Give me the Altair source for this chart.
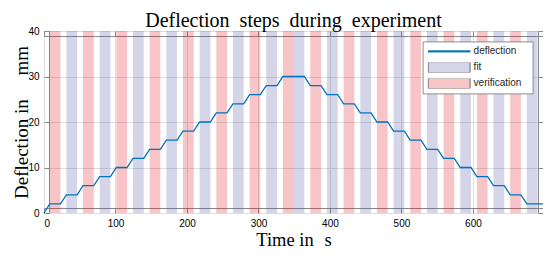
import altair as alt
import pandas as pd

# ---- values ----
bar_start = [8.0, 31.3, 54.6, 77.9, 101.2, 124.5, 147.8, 171.1, 194.4, 217.7,
             241.0, 264.3, 287.6, 310.9, 334.2, 349.2, 372.5, 395.8, 419.1, 442.4,
             465.7, 489.0, 512.3, 535.6, 558.9, 582.2, 605.5, 628.8, 652.1, 675.4]
bar_end = [23.0, 46.3, 69.6, 92.9, 116.2, 139.5, 162.8, 186.1, 209.4, 232.7,
           256.0, 279.3, 302.6, 325.9, 349.2, 364.2, 387.5, 410.8, 434.1, 457.4,
           480.7, 504.0, 527.3, 550.6, 573.9, 597.2, 620.5, 643.8, 667.1, 690.4]
bar_kind = ["verification", "fit"] * 15
hold_level = [2, 4, 6, 8, 10, 12, 14, 16, 18, 20, 22, 24, 26, 28, 30,
              30, 28, 26, 24, 22, 20, 18, 16, 14, 12, 10, 8, 6, 4, 2]
t_first, d_first = 0.0, 0.0
t_last = 698.0

series = ["deflection", "fit", "verification"]
x_ticks = [0, 100, 200, 300, 400, 500, 600]
y_ticks = [0, 10, 20, 30, 40]

NB = "\u00a0"
title_text = f"Deflection {NB}steps {NB}during {NB}experiment"
x_title = f"Time in {NB}\u200as"
y_title = f"Deflection in {NB}{NB}{NB}{NB}mm"

# ---- tables ----
bars_df = pd.DataFrame({"start": bar_start, "end": bar_end, "kind": bar_kind})

lt, ld = [t_first], [d_first]
for s, e, lv in zip(bar_start, bar_end, hold_level):
    lt += [s, e]
    ld += [lv, lv]
lt.append(t_last)
ld.append(hold_level[-1])
line_df = pd.DataFrame({"time": lt, "defl": ld})
leg_df = pd.DataFrame({"series": series})

xscale = alt.Scale(domain=[0, t_last], nice=False, zero=False)
yscale = alt.Scale(domain=[0, 40], nice=False)

SERIF = "Liberation Serif"
SANS = "Liberation Sans"

bars = alt.Chart(bars_df).mark_rect(opacity=0.25).encode(
    x=alt.X("start:Q", scale=xscale, axis=alt.Axis(
        orient="bottom", values=x_ticks, offset=-5, tickSize=5, labelPadding=5,
        grid=True, title=x_title, titleFont=SERIF, titleFontSize=18.5,
        titleFontWeight="normal", titleColor="black", titleY=37,
        titleBaseline="alphabetic", format="d")),
    x2="end:Q",
    fill=alt.when(alt.datum.kind == "fit").then(alt.value("#5757ab")).otherwise(alt.value("#df1723")),
)

line = alt.Chart(line_df).mark_line(color="#0072BD", strokeWidth=1.3).encode(
    x=alt.X("time:Q", scale=xscale, axis=None),
    y=alt.Y("defl:Q", scale=yscale, axis=alt.Axis(
        orient="left", values=y_ticks, offset=-5, tickSize=5, labelPadding=5,
        grid=True, title=y_title, titleFont=SERIF, titleFontSize=19,
        titleFontWeight="normal", titleColor="black", titleX=-22,
        titleBaseline="alphabetic")),
)

frame_axes = alt.Chart(line_df).mark_line(opacity=0).encode(
    x=alt.X("time:Q", scale=xscale, axis=alt.Axis(
        orient="top", values=x_ticks, offset=-5, tickSize=5, labels=False,
        grid=False, title=None)),
    y=alt.Y("defl:Q", scale=yscale, axis=alt.Axis(
        orient="right", values=y_ticks, offset=-5, tickSize=5, labels=False,
        grid=False, title=None)),
)

leg = alt.Legend(
    orient="none", legendX=378.6, legendY=10.4, title=NB, titleOrient="right",
    titlePadding=6, titleFontSize=10, fillColor="white",
    strokeColor="#8c8c8c", padding=5, clipHeight=10, rowPadding=6,
    symbolSize=1764, symbolStrokeWidth=0.8, symbolOpacity=1,
    labelFont=SANS, labelFontSize=10, labelColor="#262626", labelOffset=3,
)
line_path = "M-1,-0.03H1V0.03H-1Z"
rect_path = "M-1,-0.25H1V0.25H-1Z"
legend_layer = alt.Chart(leg_df).mark_point(filled=True, opacity=0).encode(
    fill=alt.Fill("series:N", scale=alt.Scale(domain=series, range=["#0072BD", "#d5d5ea", "#f7c6c9"]), legend=leg),
    stroke=alt.Stroke("series:N", scale=alt.Scale(domain=series, range=["#0072BD", "#4d4d4d", "#4d4d4d"]), legend=leg),
    shape=alt.Shape("series:N", scale=alt.Scale(domain=series, range=[line_path, rect_path, rect_path]), legend=leg),
)

chart = alt.layer(bars, line, frame_axes, legend_layer).resolve_axis(
    x="independent", y="independent"
).properties(
    width=499, height=182,
    title=alt.TitleParams(title_text, font=SERIF, fontSize=20,
                          fontWeight="normal", color="black", anchor="middle",
                          offset=0, dy=5),
    autosize=alt.AutoSizeParams(type="none"),
    padding={"left": 36, "top": 23, "right": 0, "bottom": 36},
).configure_view(stroke="#333333", strokeWidth=1).configure_axis(
    labelFont=SANS, labelFontSize=10, labelColor="#4d4d4d", tickColor="#262626",
    tickWidth=0.8, domain=False, gridColor="#e8e8e8", gridWidth=0.5,
).configure(background="white")

chart.save("out.html", embed_options={"renderer": "svg", "actions": False})
